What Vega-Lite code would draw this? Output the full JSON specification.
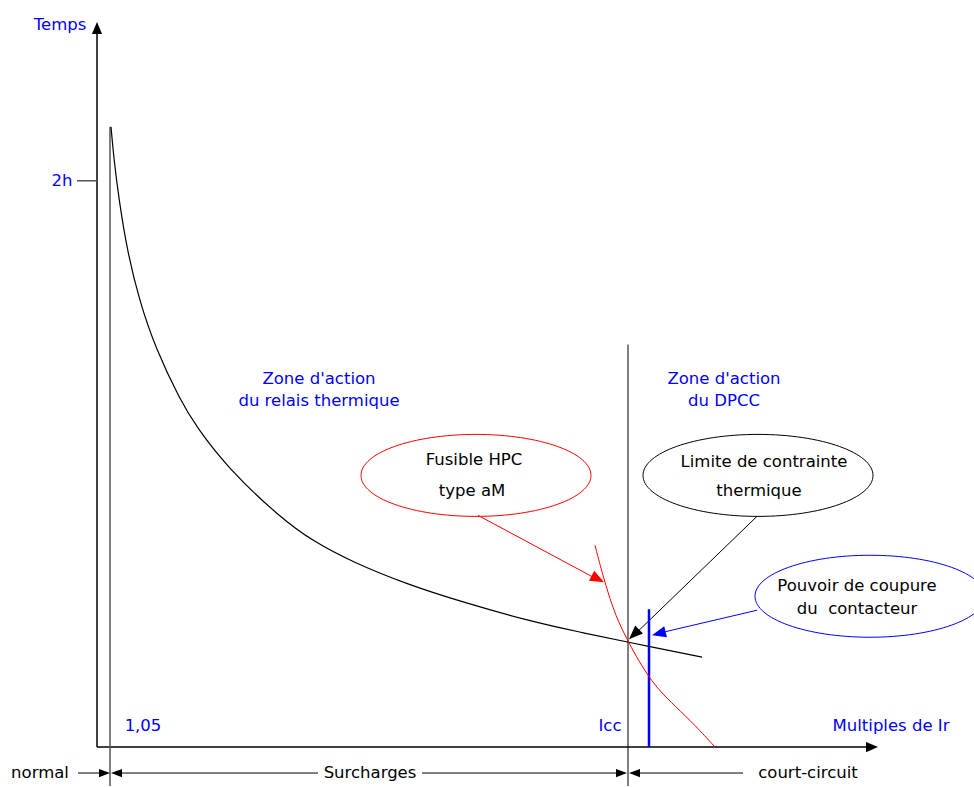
{
  "$schema": "https://vega.github.io/schema/vega-lite/v6.json",
  "width": 974,
  "height": 787,
  "padding": 0,
  "autosize": {"type": "fit", "contains": "padding"},
  "background": "white",
  "config": {"view": {"stroke": null}},
  "datasets": {
    "segments": [
      {"kind": "axis", "x": 97, "y": 748, "x2": 97, "y2": 30},
      {"kind": "axis", "x": 97, "y": 748, "x2": 868, "y2": 748},
      {"kind": "gray", "x": 110, "y": 127, "x2": 110, "y2": 787},
      {"kind": "gray", "x": 77, "y": 181, "x2": 97, "y2": 181},
      {"kind": "black", "x": 628, "y": 345, "x2": 628, "y2": 787},
      {"kind": "black", "x": 78, "y": 774, "x2": 104, "y2": 774},
      {"kind": "black", "x": 116, "y": 774, "x2": 318, "y2": 774},
      {"kind": "black", "x": 422, "y": 774, "x2": 622, "y2": 774},
      {"kind": "black", "x": 634, "y": 774, "x2": 743, "y2": 774},
      {"kind": "black", "x": 757, "y": 517, "x2": 635, "y2": 635},
      {"kind": "red", "x": 478, "y": 516, "x2": 597, "y2": 580},
      {"kind": "blue", "x": 757, "y": 611, "x2": 659, "y2": 634},
      {"kind": "bluethick", "x": 649, "y": 610, "x2": 649, "y2": 748}
    ],
    "relais": [
      {"x": 111, "y": 127}, {"x": 114, "y": 160}, {"x": 119, "y": 200},
      {"x": 127, "y": 250}, {"x": 139, "y": 300}, {"x": 156, "y": 350},
      {"x": 180, "y": 400}, {"x": 196, "y": 427}, {"x": 228, "y": 469},
      {"x": 280, "y": 518}, {"x": 313, "y": 542}, {"x": 353, "y": 563},
      {"x": 407, "y": 585}, {"x": 463, "y": 603}, {"x": 530, "y": 622},
      {"x": 580, "y": 633}, {"x": 628, "y": 643}, {"x": 702, "y": 658}
    ],
    "fusible": [
      {"x": 595, "y": 546}, {"x": 602, "y": 573}, {"x": 610, "y": 600},
      {"x": 618, "y": 622}, {"x": 629, "y": 644}, {"x": 639, "y": 662},
      {"x": 649, "y": 678}, {"x": 660, "y": 692}, {"x": 675, "y": 707},
      {"x": 695, "y": 726}, {"x": 715, "y": 748}
    ],
    "heads": [
      {"type": "axis", "color": "k", "x": 97, "y": 22, "angle": -90},
      {"type": "axis", "color": "k", "x": 878, "y": 748, "angle": 0},
      {"type": "bound", "color": "k", "x": 110, "y": 774, "angle": 0},
      {"type": "bound", "color": "k", "x": 111, "y": 774, "angle": 180},
      {"type": "bound", "color": "k", "x": 627, "y": 774, "angle": 0},
      {"type": "bound", "color": "k", "x": 629, "y": 774, "angle": 180},
      {"type": "callout", "color": "r", "x": 604, "y": 583, "angle": 28},
      {"type": "callout", "color": "k", "x": 629, "y": 640, "angle": 136},
      {"type": "callout", "color": "b", "x": 652, "y": 636, "angle": 166}
    ],
    "ellipses": [
      {"color": "r", "x": 476, "y": 476},
      {"color": "k", "x": 758, "y": 476},
      {"color": "b", "x": 870, "y": 597}
    ],
    "labels": [
      {"color": "b", "label": "Temps", "x": 60, "y": 25},
      {"color": "b", "label": "2h", "x": 62, "y": 181},
      {"color": "b", "label": "1,05", "x": 143, "y": 727},
      {"color": "b", "label": "Icc", "x": 610, "y": 727},
      {"color": "b", "label": "Multiples de Ir", "x": 891, "y": 727},
      {"color": "b", "label": "Zone d'action", "x": 319, "y": 379},
      {"color": "b", "label": "du relais thermique", "x": 319, "y": 402},
      {"color": "b", "label": "Zone d'action", "x": 724, "y": 379},
      {"color": "b", "label": "du DPCC", "x": 724, "y": 402},
      {"color": "k", "label": "Fusible HPC", "x": 474, "y": 461},
      {"color": "k", "label": "type aM", "x": 472, "y": 492},
      {"color": "k", "label": "Limite de contrainte", "x": 764, "y": 463},
      {"color": "k", "label": "thermique", "x": 759, "y": 492},
      {"color": "k", "label": "Pouvoir de coupure", "x": 857, "y": 587},
      {"color": "k", "label": "du\u00a0 contacteur", "x": 857, "y": 610},
      {"color": "k", "label": "normal", "x": 40, "y": 774},
      {"color": "k", "label": "Surcharges", "x": 370, "y": 774},
      {"color": "k", "label": "court-circuit", "x": 808, "y": 774}
    ]
  },
  "encoding": {
    "x": {"field": "x", "type": "quantitative", "axis": null, "scale": {"domain": [0, 974], "nice": false, "zero": false}},
    "y": {"field": "y", "type": "quantitative", "axis": null, "scale": {"domain": [0, 787], "nice": false, "zero": false, "reverse": true}}
  },
  "layer": [
    {
      "data": {"name": "segments"},
      "transform": [{"filter": "datum.kind === 'axis'"}],
      "mark": {"type": "rule", "color": "#000000", "strokeWidth": 1.5},
      "encoding": {"x2": {"field": "x2"}, "y2": {"field": "y2"}}
    },
    {
      "data": {"name": "segments"},
      "transform": [{"filter": "datum.kind === 'gray'"}],
      "mark": {"type": "rule", "color": "#555555", "strokeWidth": 1.5},
      "encoding": {"x2": {"field": "x2"}, "y2": {"field": "y2"}}
    },
    {
      "data": {"name": "segments"},
      "transform": [{"filter": "datum.kind === 'black'"}],
      "mark": {"type": "rule", "color": "#000000", "strokeWidth": 1},
      "encoding": {"x2": {"field": "x2"}, "y2": {"field": "y2"}}
    },
    {
      "data": {"name": "segments"},
      "transform": [{"filter": "datum.kind === 'red'"}],
      "mark": {"type": "rule", "color": "#ff0000", "strokeWidth": 1},
      "encoding": {"x2": {"field": "x2"}, "y2": {"field": "y2"}}
    },
    {
      "data": {"name": "segments"},
      "transform": [{"filter": "datum.kind === 'blue'"}],
      "mark": {"type": "rule", "color": "#0000ff", "strokeWidth": 1},
      "encoding": {"x2": {"field": "x2"}, "y2": {"field": "y2"}}
    },
    {
      "data": {"name": "segments"},
      "transform": [{"filter": "datum.kind === 'bluethick'"}],
      "mark": {"type": "rule", "color": "#0000ff", "strokeWidth": 2.5},
      "encoding": {"x2": {"field": "x2"}, "y2": {"field": "y2"}}
    },
    {
      "data": {"name": "relais"},
      "mark": {"type": "line", "color": "#000000", "strokeWidth": 1.2, "interpolate": "basis"},
      "encoding": {}
    },
    {
      "data": {"name": "fusible"},
      "mark": {"type": "line", "color": "#ff0000", "strokeWidth": 1, "interpolate": "basis"},
      "encoding": {}
    },
    {
      "data": {"name": "ellipses"},
      "mark": {"type": "point", "filled": false, "opacity": 1, "strokeWidth": 1, "size": 52900, "clip": true,
        "shape": "M1,0 C1,0.1969 0.5523,0.3565 0,0.3565 C-0.5523,0.3565 -1,0.1969 -1,0 C-1,-0.1969 -0.5523,-0.3565 0,-0.3565 C0.5523,-0.3565 1,-0.1969 1,0 Z"},
      "encoding": {
        "color": {"field": "color", "type": "nominal", "legend": null, "scale": {"domain": ["k", "r", "b"], "range": ["#000000", "#ff0000", "#0000ff"]}}
      }
    },
    {
      "data": {"name": "heads"},
      "transform": [{"filter": "datum.type === 'axis'"}],
      "mark": {"type": "point", "filled": true, "opacity": 1, "strokeWidth": 0, "size": 144, "shape": "M0,0 L-2,-0.85 L-2,0.85 Z"},
      "encoding": {
        "angle": {"field": "angle", "type": "quantitative", "scale": null},
        "color": {"field": "color", "type": "nominal", "legend": null, "scale": {"domain": ["k", "r", "b"], "range": ["#000000", "#ff0000", "#0000ff"]}}
      }
    },
    {
      "data": {"name": "heads"},
      "transform": [{"filter": "datum.type === 'bound'"}],
      "mark": {"type": "point", "filled": true, "opacity": 1, "strokeWidth": 0, "size": 121, "shape": "M0,0 L-2,-0.75 L-2,0.75 Z"},
      "encoding": {
        "angle": {"field": "angle", "type": "quantitative", "scale": null},
        "color": {"field": "color", "type": "nominal", "legend": null, "scale": {"domain": ["k", "r", "b"], "range": ["#000000", "#ff0000", "#0000ff"]}}
      }
    },
    {
      "data": {"name": "heads"},
      "transform": [{"filter": "datum.type === 'callout'"}],
      "mark": {"type": "point", "filled": true, "opacity": 1, "strokeWidth": 0, "size": 196, "shape": "M0,0 L-2,-0.8 L-2,0.8 Z"},
      "encoding": {
        "angle": {"field": "angle", "type": "quantitative", "scale": null},
        "color": {"field": "color", "type": "nominal", "legend": null, "scale": {"domain": ["k", "r", "b"], "range": ["#000000", "#ff0000", "#0000ff"]}}
      }
    },
    {
      "data": {"name": "labels"},
      "mark": {"type": "text", "font": "Comic Sans MS, DejaVu Sans", "fontSize": 16.5, "align": "center", "baseline": "middle"},
      "encoding": {
        "text": {"field": "label"},
        "color": {"field": "color", "type": "nominal", "legend": null, "scale": {"domain": ["k", "r", "b"], "range": ["#000000", "#ff0000", "#0000ff"]}}
      }
    }
  ]
}
